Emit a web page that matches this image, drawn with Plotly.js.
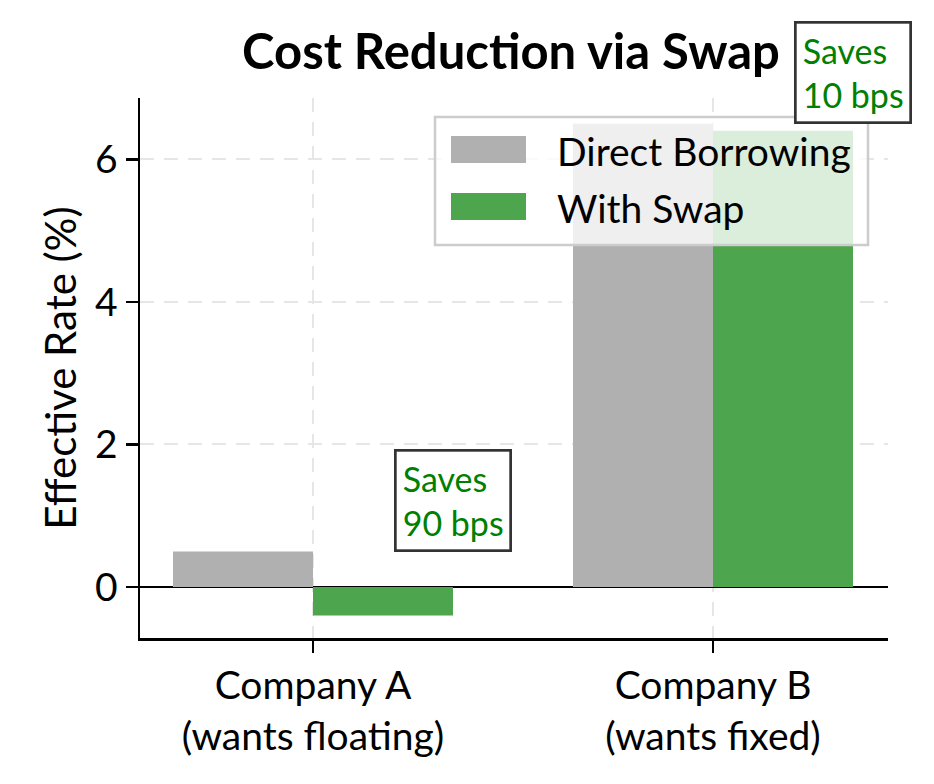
<!DOCTYPE html>
<html>
<head>
<meta charset="utf-8">
<script src="https://cdn.plot.ly/plotly-3.0.1.min.js"></script>
<style>
  body { margin: 0; background: #fff; }
  #chart { width: 934px; height: 784px; }
</style>
</head>
<body>
<div id="chart"></div>
<script>
const categories = ["Company A<br>(wants floating)", "Company B<br>(wants fixed)"]
const seriesNames = ["Direct Borrowing", "With Swap"]
const directRates = [0.5, 6.5]
const swapRates = [-0.4, 6.4]
const yTicks = [0, 2, 4, 6]

const colors = ["#b0b0b0", "#4da64d"]
const font = "Lato, Roboto, sans-serif"
const yRange = [-0.715, 6.86]

// plot area in pixels
const W = 934, H = 784
const m = { l: 140, r: 46, t: 98, b: 146 }
const pw = W - m.l - m.r
const ph = H - m.t - m.b
const px = (x) => (x - m.l) / pw
const py = (y) => (H - m.b - y) / ph
// y value -> paper fraction, so boxes above the top still get drawn
const yPaper = (v) => (v - yRange[0]) / (yRange[1] - yRange[0])

const traces = [directRates, swapRates].map((vals, i) => ({
  type: "bar",
  x: [0, 1],
  y: vals,
  name: seriesNames[i],
  marker: { color: colors[i], line: { width: 0 } },
  showlegend: false,
  hoverinfo: "skip",
}))

// savings boxes
const annotations = categories.map((c, i) => ({
  x: i + 0.35,
  y: yPaper(Math.max(directRates[i], swapRates[i]) + 0.72),
  xref: "x",
  yref: "paper",
  xanchor: "center",
  yanchor: "middle",
  text: `Saves<br>${Math.round((directRates[i] - swapRates[i]) * 100)} bps`,
  showarrow: false,
  align: "left",
  font: { family: font, size: 34, color: "#008000" },
  bgcolor: "#ffffff",
  bordercolor: "#333333",
  borderwidth: 2.7,
  borderpad: 6,
}))

// legend drawn by hand so the swatches match
const shapes = [
  {
    type: "rect", xref: "paper", yref: "paper", layer: "above",
    x0: px(435), x1: px(868), y0: py(245), y1: py(117),
    fillcolor: "rgba(255,255,255,0.8)",
    line: { color: "#cccccc", width: 2.5 },
  },
]
seriesNames.forEach((n, i) => {
  const top = 136 + i * 57
  shapes.push({
    type: "rect", xref: "paper", yref: "paper", layer: "above",
    x0: px(451), x1: px(526), y0: py(top + 27), y1: py(top),
    fillcolor: colors[i], line: { width: 0 },
  })
  annotations.push({
    x: px(555), y: py(top + 15), xref: "paper", yref: "paper",
    xanchor: "left", yanchor: "middle",
    text: n, showarrow: false,
    font: { family: font, size: 39, color: "#000" },
  })
})

const axisBase = {
  showline: true,
  linecolor: "#000",
  linewidth: 2.5,
  ticks: "outside",
  ticklen: 12,
  tickwidth: 2.5,
  tickcolor: "#000",
  showgrid: true,
  gridcolor: "#e6e6e6",
  griddash: "14px,10px",
  gridwidth: 2,
  tickfont: { family: font, size: 39, color: "#000" },
}

const layout = {
  width: W,
  height: H,
  margin: m,
  paper_bgcolor: "#fff",
  plot_bgcolor: "#fff",
  barmode: "group",
  bargap: 0.3,
  bargroupgap: 0,
  title: {
    text: "<b>Cost Reduction via Swap</b>",
    x: 511 / W,
    xanchor: "center",
    y: 1 - 52 / H,
    yanchor: "middle",
    font: { family: font, size: 49, color: "#000" },
  },
  xaxis: {
    ...axisBase,
    type: "linear",
    range: [-0.4325, 1.4375],
    tickvals: [0, 1],
    ticktext: categories,
    zeroline: false,
  },
  yaxis: {
    ...axisBase,
    range: yRange,
    tickvals: yTicks,
    zeroline: true,
    zerolinecolor: "#000",
    zerolinewidth: 2,
    title: {
      text: "Effective Rate (%)",
      font: { family: font, size: 42, color: "#000" },
      standoff: 6,
    },
  },
  shapes: shapes,
  annotations: annotations,
}

Plotly.newPlot("chart", traces, layout, { staticPlot: true })
</script>
</body>
</html>
